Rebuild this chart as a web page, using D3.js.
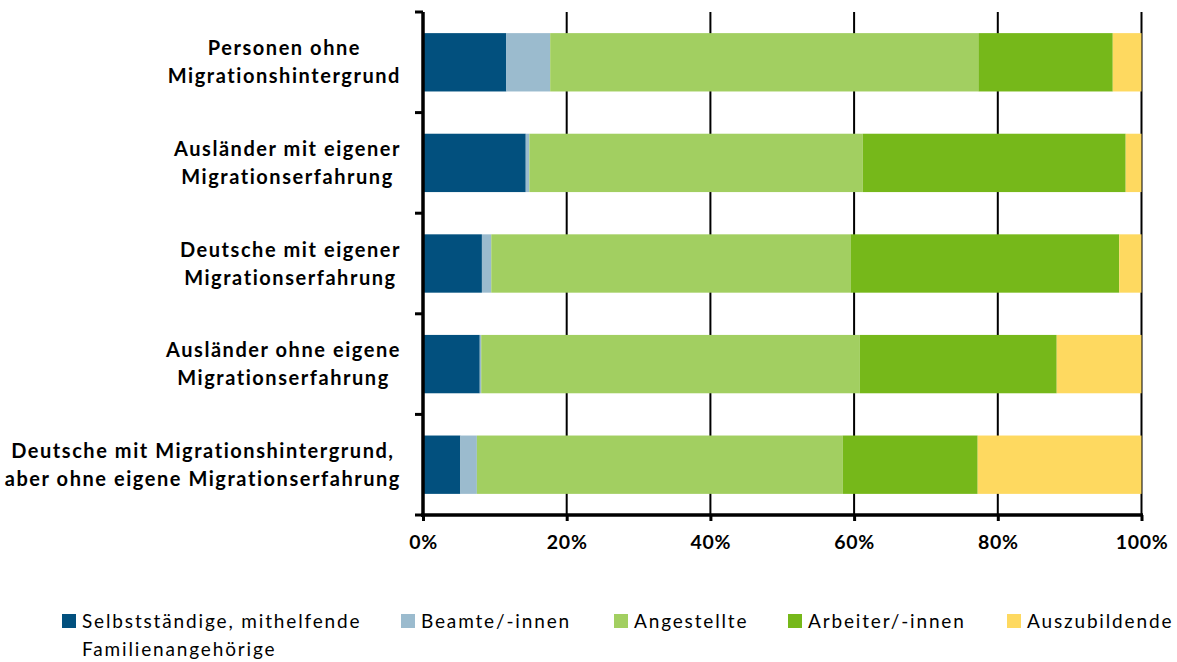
<!DOCTYPE html>
<html>
<head>
<meta charset="utf-8">
<script src="https://cdn.jsdelivr.net/npm/d3@7"></script>
<style>
  body { margin: 0; background: #fff; }
  text { font-family: Lato, "Open Sans", sans-serif; fill: #000; }
</style>
</head>
<body>
<svg id="chart" width="1177" height="662"></svg>
<script>
// categories, top to bottom (label lines)
var categories = [
  ["Personen ohne", "Migrationshintergrund"],
  ["Ausländer mit eigener", "Migrationserfahrung"],
  ["Deutsche mit eigener", "Migrationserfahrung"],
  ["Ausländer ohne eigene", "Migrationserfahrung"],
  ["Deutsche mit Migrationshintergrund,", "aber ohne eigene Migrationserfahrung"]
];
var seriesNames = ["Selbstständige, mithelfende Familienangehörige", "Beamte/-innen", "Angestellte", "Arbeiter/-innen", "Auszubildende"];
var seriesColors = ["#02507e", "#9bbbce", "#a2cf61", "#76b81a", "#fed960"];

// percent shares per category (same order as categories)
var selbst      = [11.6, 14.3, 8.2, 7.9, 5.2];
var beamte      = [6.1, 0.5, 1.3, 0.2, 2.3];
var angestellte = [59.6, 46.4, 50.0, 52.7, 50.9];
var arbeiter    = [18.7, 36.6, 37.4, 27.4, 18.8];
var azubi       = [4.0, 2.2, 3.1, 11.8, 22.8];

var tickValues = [0, 0.2, 0.4, 0.6, 0.8, 1.0];

var keys = ["s0", "s1", "s2", "s3", "s4"];
var rows = categories.map(function(c, i) {
  return {cat: i, s0: selbst[i], s1: beamte[i], s2: angestellte[i], s3: arbeiter[i], s4: azubi[i]};
});

var svg = d3.select("#chart");
var x = d3.scaleLinear().domain([0, 1]).range([423, 1141.5]);
var y = d3.scaleBand().domain(d3.range(categories.length)).range([12, 515])
  .paddingInner(0.42).paddingOuter(0.21);

var stack = d3.stack().keys(keys).offset(d3.stackOffsetExpand);
var layers = stack(rows);

// gridlines
svg.append("g").selectAll("line")
  .data(tickValues.slice(1))
  .enter().append("line")
  .attr("x1", function(d) { return x(d); })
  .attr("x2", function(d) { return x(d); })
  .attr("y1", 12).attr("y2", 515)
  .attr("stroke", "#000").attr("stroke-width", 2);

// bars
svg.append("g").selectAll("g")
  .data(layers)
  .enter().append("g")
  .attr("fill", function(d, i) { return seriesColors[i]; })
  .selectAll("rect")
  .data(function(d) { return d; })
  .enter().append("rect")
  .attr("x", function(d) { return x(d[0]); })
  .attr("width", function(d) { return x(d[1]) - x(d[0]); })
  .attr("y", function(d) { return y(d.data.cat); })
  .attr("height", y.bandwidth());

// x axis
var xAxis = svg.append("g")
  .attr("transform", "translate(0,515)")
  .call(d3.axisBottom(x).tickValues(tickValues).tickFormat(d3.format(".0%")).tickSize(6).tickPadding(14).tickSizeOuter(0));
xAxis.select(".domain").attr("stroke-width", 3.5).attr("d", "M421,0H1143");
xAxis.selectAll(".tick line").attr("stroke-width", 3);
xAxis.selectAll(".tick text").style("font-size", "19.5px").style("font-weight", "bold")
  .style("letter-spacing", "0.7px").attr("fill", "#000");

// y axis line + ticks at band boundaries
svg.append("line").attr("x1", 423).attr("x2", 423).attr("y1", 12).attr("y2", 517)
  .attr("stroke", "#000").attr("stroke-width", 3.5);
svg.append("g").selectAll("line")
  .data(d3.range(categories.length + 1))
  .enter().append("line")
  .attr("x1", 415).attr("x2", 423)
  .attr("y1", function(i) { return 12 + (503 / categories.length) * i; })
  .attr("y2", function(i) { return 12 + (503 / categories.length) * i; })
  .attr("stroke", "#000").attr("stroke-width", 3);

// category labels: wrapped, centered block ending at x=400
var labels = svg.append("g").selectAll("g")
  .data(categories)
  .enter().append("g");
labels.each(function(lines, i) {
  var g = d3.select(this);
  var cy = y(i) + y.bandwidth() / 2;
  var ts = lines.map(function(line, j) {
    return g.append("text")
      .attr("y", cy + (j - (lines.length - 1) / 2) * 28 + 7)
      .attr("text-anchor", "middle")
      .style("font-size", "20px").style("font-weight", "bold")
      .style("letter-spacing", "1.55px")
      .text(line);
  });
  var maxW = d3.max(ts, function(t) { return t.node().getComputedTextLength(); });
  ts.forEach(function(t) { t.attr("x", 401 - maxW / 2); });
});

// legend
var legendPos = [62, 401, 614, 788, 1007];
var legend = svg.append("g").selectAll("g")
  .data(seriesNames)
  .enter().append("g")
  .attr("transform", function(d, i) { return "translate(" + legendPos[i] + ",614)"; });
legend.append("rect").attr("width", 14).attr("height", 14)
  .attr("fill", function(d, i) { return seriesColors[i]; });
legend.each(function(d, i) {
  var t = d3.select(this).append("text").attr("x", 20).attr("y", 14)
    .style("font-size", "19px").style("letter-spacing", "1.85px");
  if (i === 0) {
    t.append("tspan").attr("x", 20).text("Selbstständige, mithelfende");
    t.append("tspan").attr("x", 20).attr("dy", 28).text("Familienangehörige");
  } else {
    t.text(d);
  }
});
</script>
</body>
</html>
